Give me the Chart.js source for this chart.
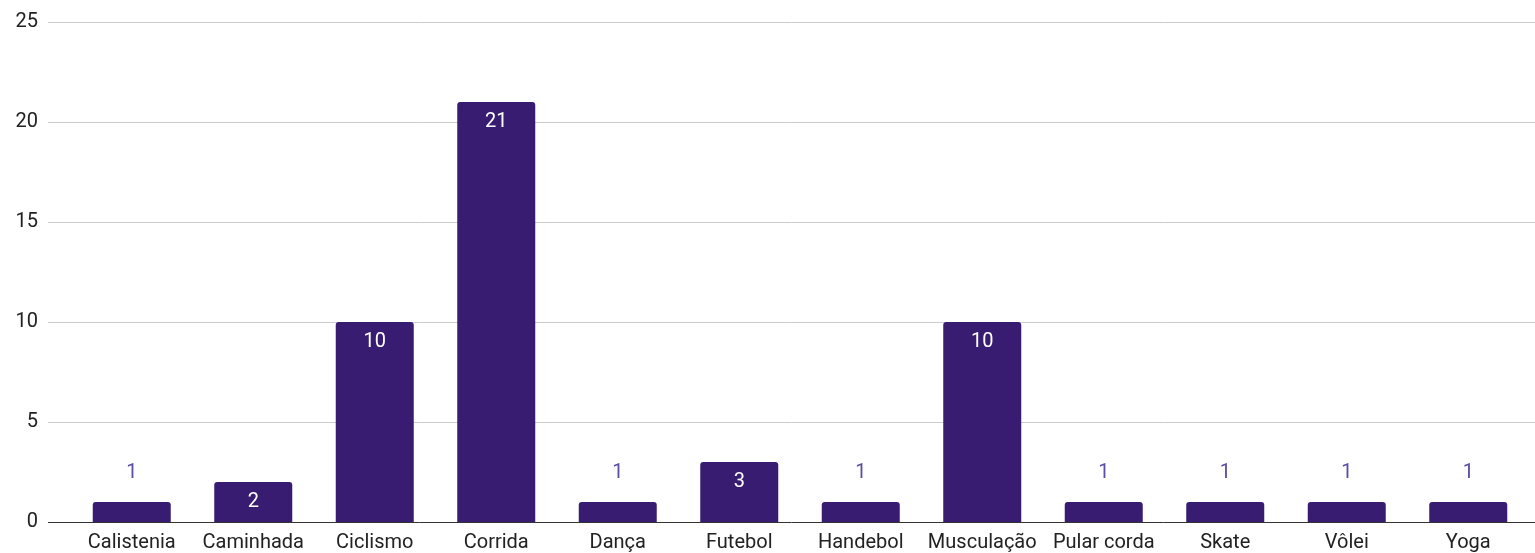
<!DOCTYPE html>
<html>
<head>
<meta charset="utf-8">
<script src="https://cdn.jsdelivr.net/npm/chart.js@4"></script>
<style>
  html, body { margin: 0; padding: 0; background: #fff; overflow: hidden; }
  #wrap { width: 1535px; height: 553px; position: relative; }
</style>
</head>
<body>
<div id="wrap"><canvas id="grafic"></canvas></div>
<script>
// date
const categorii = ['Calistenia', 'Caminhada', 'Ciclismo', 'Corrida', 'Dança', 'Futebol',
  'Handebol', 'Musculação', 'Pular corda', 'Skate', 'Vôlei', 'Yoga'];
const valori = [1, 2, 10, 21, 1, 3, 1, 10, 1, 1, 1, 1];
const tickuriY = [0, 5, 10, 15, 20, 25];

const culoareBara = '#371c72';
const fontBaza = 'Roboto, "Liberation Sans", Arial, sans-serif';

// linii de grila care trec si pe sub etichetele axei
const gridPlugin = {
  id: 'gridExtins',
  beforeDatasetsDraw(chart) {
    const ctx = chart.ctx;
    const y = chart.scales.y;
    ctx.save();
    tickuriY.forEach(v => {
      const py = Math.round(y.getPixelForValue(v)) + 0.5;
      ctx.beginPath();
      ctx.strokeStyle = v === 0 ? '#333333' : '#cccccc';
      ctx.lineWidth = 1;
      ctx.moveTo(48, py);
      ctx.lineTo(chart.width, py);
      ctx.stroke();
    });
    ctx.restore();
  }
};

// etichete cu valori (in bara sau deasupra ei)
const eticheteValori = {
  id: 'eticheteValori',
  afterDatasetsDraw(chart) {
    const ctx = chart.ctx;
    const meta = chart.getDatasetMeta(0);
    ctx.save();
    ctx.font = '20px ' + fontBaza;
    ctx.textAlign = 'center';
    ctx.textBaseline = 'middle';
    meta.data.forEach((bar, i) => {
      const h = bar.base - bar.y;
      if (h >= 30) {
        ctx.fillStyle = '#ffffff';
        ctx.fillText(valori[i], bar.x, bar.y + 20);
      } else {
        ctx.fillStyle = '#5d4ca6';
        ctx.fillText(valori[i], bar.x, bar.y - 29);
      }
    });
    ctx.restore();
  }
};

const grafic = new Chart(document.getElementById('grafic'), {
  type: 'bar',
  data: {
    labels: categorii,
    datasets: [{
      data: valori,
      backgroundColor: culoareBara,
      borderRadius: 3,
      categoryPercentage: 1,
      barPercentage: 0.642
    }]
  },
  options: {
    responsive: true,
    maintainAspectRatio: false,
    animation: false,
    layout: { padding: { top: 0, right: 6, left: 0, bottom: 0 } },
    plugins: {
      legend: { display: false },
      tooltip: { enabled: false }
    },
    scales: {
      x: {
        grid: { display: false, drawTicks: false },
        border: { display: false },
        ticks: {
          color: '#222222',
          font: { family: fontBaza, size: 20 },
          padding: 9,
          maxRotation: 0,
          autoSkip: false
        },
        afterFit(scale) { scale.height = 31; }
      },
      y: {
        min: 0,
        max: 25,
        grid: { display: false, drawTicks: true, tickLength: 23 },
        border: { display: false },
        afterBuildTicks(scale) { scale.ticks = tickuriY.map(v => ({ value: v })); },
        ticks: {
          color: '#222222',
          font: { family: fontBaza, size: 20 },
          padding: 10
        },
        afterFit(scale) { scale.width = 71; }
      }
    }
  },
  plugins: [gridPlugin, eticheteValori]
});
</script>
</body>
</html>
